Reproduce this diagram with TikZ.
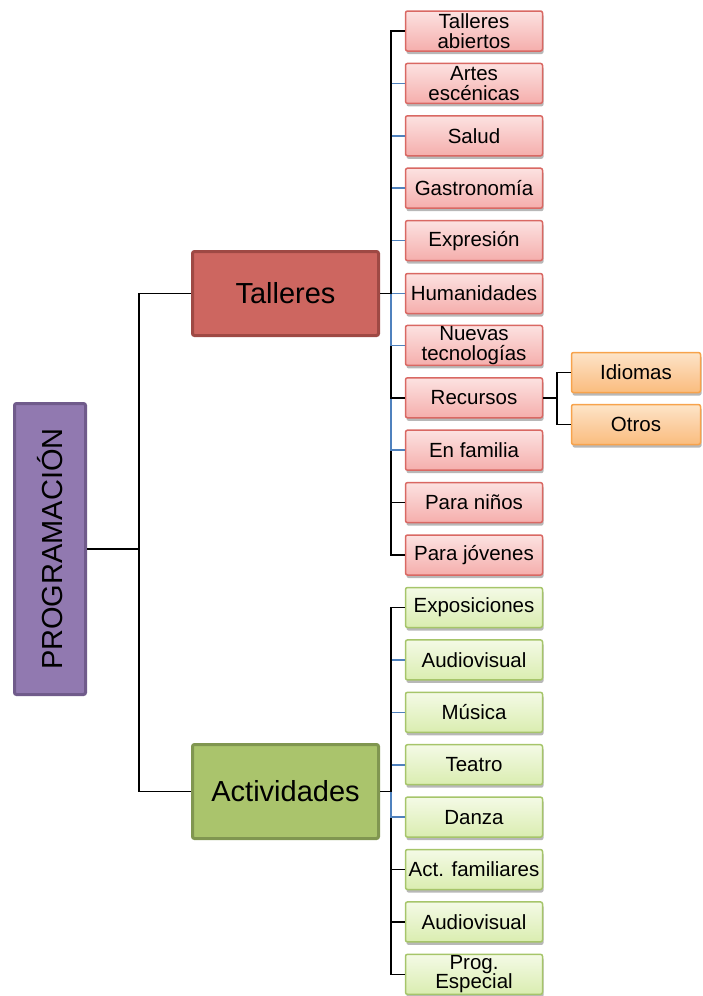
\documentclass[tikz,border=0pt]{standalone}
\usepackage{fontspec}
\setmainfont{Liberation Sans}
\usetikzlibrary{shadows}
\definecolor{purfill}{RGB}{145,121,176}
\definecolor{purdraw}{RGB}{112,91,139}
\definecolor{redfill}{RGB}{205,102,96}
\definecolor{reddraw}{RGB}{158,73,68}
\definecolor{grnfill}{RGB}{170,196,108}
\definecolor{grndraw}{RGB}{128,150,80}
\definecolor{pinkedge}{RGB}{217,104,99}
\definecolor{pinktop}{RGB}{252,226,225}
\definecolor{pinkbot}{RGB}{245,174,172}
\definecolor{greenedge}{RGB}{166,197,106}
\definecolor{greentop}{RGB}{244,250,230}
\definecolor{greenbot}{RGB}{218,237,176}
\definecolor{orgedge}{RGB}{247,163,76}
\definecolor{orgtop}{RGB}{253,228,200}
\definecolor{orgbot}{RGB}{250,188,126}
\definecolor{connblue}{RGB}{79,129,189}
\begin{document}
\begin{tikzpicture}[x=1pt,y=-1pt,
  leaf/.style={line width=1.5pt, rounded corners=2pt, minimum width=137pt, minimum height=40pt,
    inner sep=0pt, align=center, font=\fontsize{20.5}{19.5}\selectfont,
    drop shadow={shadow xshift=1pt, shadow yshift=-3pt, opacity=0.28, fill=black}},
  pinkbox/.style={leaf, draw=pinkedge, top color=pinktop, bottom color=pinkbot},
  greenbox/.style={leaf, draw=greenedge, top color=greentop, bottom color=greenbot},
  orgbox/.style={leaf, draw=orgedge, top color=orgtop, bottom color=orgbot, minimum width=129pt},
  parent/.style={line width=3pt, rounded corners=2pt, inner sep=0pt, align=center,
    font=\fontsize{29}{30}\selectfont},
  blk/.style={draw=black, line width=1.6pt},
  blu/.style={draw=connblue, line width=1.6pt}]
\useasboundingbox (0,0) rectangle (702,996);

% root and parents
\node[parent, draw=purdraw, fill=purfill, minimum width=71pt, minimum height=291pt] (P) at (50,549)
  {\rotatebox{90}{PROGRAMACIÓN}};
\node[parent, draw=reddraw, fill=redfill, minimum width=186pt, minimum height=84pt] (T) at (285.5,293.5) {Talleres};
\node[parent, draw=grndraw, fill=grnfill, minimum width=186pt, minimum height=94pt] (A) at (285.5,791.5) {Actividades};

% Talleres children
\node[pinkbox] (t1) at (474,31) {Talleres\\abiertos};
\node[pinkbox] (t2) at (474,83.4) {Artes\\escénicas};
\node[pinkbox] (t3) at (474,135.8) {Salud};
\node[pinkbox] (t4) at (474,188.2) {Gastronomía};
\node[pinkbox] (t5) at (474,240.6) {Expresión};
\node[pinkbox] (t6) at (474,293.5) {Humanidades};
\node[pinkbox] (t7) at (474,345.4) {Nuevas\\tecnologías};
\node[pinkbox] (t8) at (474,397.8) {Recursos};
\node[pinkbox] (t9) at (474,450.2) {En familia};
\node[pinkbox] (t10) at (474,502.6) {Para niños};
\node[pinkbox] (t11) at (474,555) {Para jóvenes};

% Recursos children
\node[orgbox] (r1) at (636,372.5) {Idiomas};
\node[orgbox] (r2) at (636,424.5) {Otros};

% Actividades children
\node[greenbox] (a1) at (474,607.5) {Exposiciones};
\node[greenbox] (a2) at (474,659.9) {Audiovisual};
\node[greenbox] (a3) at (474,712.3) {Música};
\node[greenbox] (a4) at (474,764.7) {Teatro};
\node[greenbox] (a5) at (474,817.1) {Danza};
\node[greenbox] (a6) at (474,869.5) {Act. familiares};
\node[greenbox] (a7) at (474,921.9) {Audiovisual};
\node[greenbox] (a8) at (474,974.3) {Prog.\\Especial};

% junction coordinates
\coordinate (jP) at (139,549);
\coordinate (jT) at (391,293.5);
\coordinate (jA) at (391,791.5);
\coordinate (jR) at (557,397.8);

% root connectors
\draw[blk] (P.east) -- (jP) |- (T.west);
\draw[blk] (jP) |- (A.west);

% Talleres connectors
\draw[blk] (T.east) -- (jT) |- (t11.west);
\draw[blk] (jT) |- (t10.west);
\draw[blu] (jT) |- (t9.west);
\draw[blk] (jT) |- (t8.west);
\draw[blu] (jT) |- (t7.west);
\draw[blu] (jT) -- (t6.west);
\draw[blu] (jT) |- (t5.west);
\draw[blu] (jT) |- (t4.west);
\draw[blu] (jT) |- (t3.west);
\draw[blu] (jT) |- (t2.west);
\draw[blk] (jT) |- (t1.west);

% Recursos connectors
\draw[blk] (t8.east) -- (jR) |- (r1.west);
\draw[blk] (jR) |- (r2.west);

% Actividades connectors
\draw[blk] (A.east) -- (jA) |- (a8.west);
\draw[blk] (jA) |- (a7.west);
\draw[blk] (jA) |- (a6.west);
\draw[blu] (jA) |- (a5.west);
\draw[blu] (jA) |- (a4.west);
\draw[blu] (jA) |- (a3.west);
\draw[blu] (jA) |- (a2.west);
\draw[blk] (jA) |- (a1.west);
\end{tikzpicture}
\end{document}
